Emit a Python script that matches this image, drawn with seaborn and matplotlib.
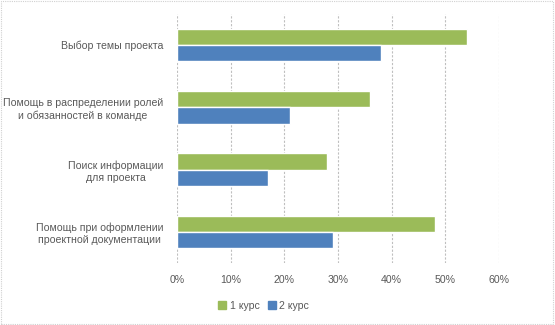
import matplotlib.pyplot as plt
import matplotlib.patches as mpatches
from matplotlib.lines import Line2D
from matplotlib.ticker import PercentFormatter
import seaborn as sns
import pandas as pd

sns.set_theme(style="white")
plt.rcParams['font.family'] = ['Liberation Sans', 'DejaVu Sans']

# Data
categories = ['Выбор темы проекта',
              'Помощь в распределении ролей\nи обязанностей в команде',
              'Поиск информации\nдля проекта',
              'Помощь при оформлении\nпроектной документации']
series_names = ['1 курс', '2 курс']
course1 = [54, 36, 28, 48]
course2 = [38, 21, 17, 29]

colors = ['#9BBB59', '#4F81BD']
text_color = '#595959'

df = pd.DataFrame({
    'Категория': categories * 2,
    'Курс': [series_names[0]] * len(categories) + [series_names[1]] * len(categories),
    'Доля': course1 + course2,
})

fig = plt.figure(figsize=(5.55, 3.25), dpi=100)
ax = fig.add_axes([0.319, 0.191, 0.580, 0.766])

sns.barplot(data=df, y='Категория', x='Доля', hue='Курс', hue_order=series_names,
            order=categories, palette=colors, orient='h', width=0.52,
            saturation=1, ax=ax, legend=False)

ax.set_xlim(0, 60)
ax.set_xticks(range(0, 61, 10))
ax.xaxis.set_major_formatter(PercentFormatter(decimals=0))
ax.grid(axis='x', color='#BFBFBF', linestyle=(0, (2, 1.5)), linewidth=0.8)
ax.grid(axis='y', visible=False)
ax.set_axisbelow(True)
for s in ax.spines.values():
    s.set_visible(False)
ax.set_xlabel('')
ax.set_ylabel('')
ax.tick_params(axis='both', length=0, labelsize=7.6, labelcolor=text_color)
ax.tick_params(axis='y', pad=10)
ax.tick_params(axis='x', pad=9)
for lbl in ax.get_yticklabels():
    lbl.set_multialignment('center')
    lbl.set_linespacing(1.3)

handles = [Line2D([], [], marker='s', linestyle='', markersize=5.5,
                  markerfacecolor=c, markeredgecolor=c) for c in colors]
fig.legend(handles, series_names, loc='center', bbox_to_anchor=(0.475, 0.058),
           ncol=2, frameon=False, fontsize=7.6, labelcolor=text_color,
           handlelength=0.8, handletextpad=0.3, columnspacing=0.8)

# chart border
fig.patches.append(mpatches.Rectangle((0.002, 0.003), 0.995, 0.993, transform=fig.transFigure,
                                      fill=False, edgecolor='#D0D0D0', linewidth=0.8,
                                      linestyle=(0, (1, 1))))

fig.savefig('out.png', dpi=100)
